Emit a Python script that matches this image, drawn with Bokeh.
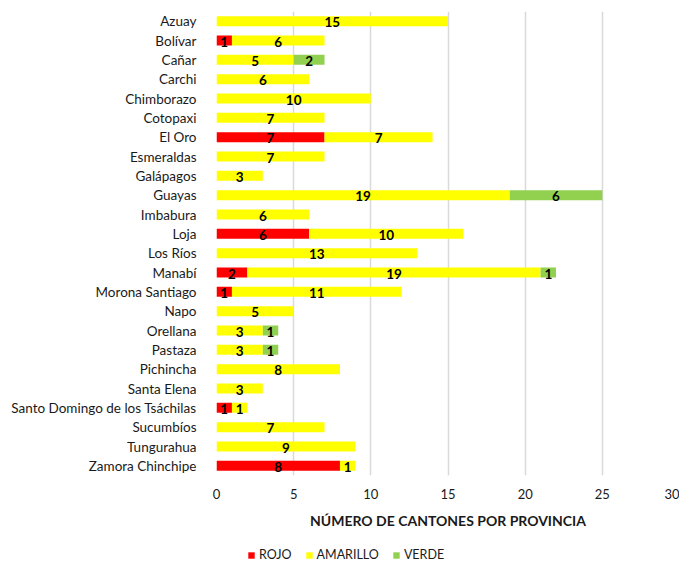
from bokeh.plotting import figure
from bokeh.layouts import column
from bokeh.models import FactorRange, Range1d, SingleIntervalTicker, Legend, LegendItem, ColumnDataSource
from bokeh.core.properties import value
from bokeh.embed import file_html
from bokeh.resources import INLINE

provinces = ["Azuay", "Bolívar", "Cañar", "Carchi", "Chimborazo", "Cotopaxi", "El Oro",
             "Esmeraldas", "Galápagos", "Guayas", "Imbabura", "Loja", "Los Ríos", "Manabí",
             "Morona Santiago", "Napo", "Orellana", "Pastaza", "Pichincha", "Santa Elena",
             "Santo Domingo de los Tsáchilas", "Sucumbíos", "Tungurahua", "Zamora Chinchipe"]
rojo =     [0, 1, 0, 0, 0, 0, 7, 0, 0, 0, 0, 6, 0, 2, 1, 0, 0, 0, 0, 0, 1, 0, 0, 8]
amarillo = [15, 6, 5, 6, 10, 7, 7, 7, 3, 19, 6, 10, 13, 19, 11, 5, 3, 3, 8, 3, 1, 7, 9, 1]
verde =    [0, 0, 2, 0, 0, 0, 0, 0, 0, 6, 0, 0, 0, 1, 0, 0, 1, 1, 0, 0, 0, 0, 0, 0]
series_names = ["ROJO", "AMARILLO", "VERDE"]
colors = ["#FF0000", "#FFFF00", "#92D050"]

FONT = "Lato"

src = ColumnDataSource(dict(prov=provinces, ROJO=rojo, AMARILLO=amarillo, VERDE=verde))

p = figure(width=679, height=541, output_backend="svg", toolbar_location=None,
           y_range=FactorRange(factors=list(reversed(provinces))),
           x_range=Range1d(0, 30),
           min_border_left=216, min_border_right=0, min_border_top=11, min_border_bottom=66)

rs = p.hbar_stack(series_names, y="prov", height=0.52, color=colors, source=src, line_width=0)

# data labels centered in each segment
lx, ly, lt = [], [], []
for i, prov in enumerate(provinces):
    base = 0
    for vals in (rojo, amarillo, verde):
        v = vals[i]
        if v > 0:
            lx.append(base + v / 2)
            ly.append(prov)
            lt.append(str(v))
        base += v
p.text(x=lx, y=ly, text=lt, text_align="center", text_baseline="middle",
       text_font=value(FONT), text_font_size="13.5px", text_font_style="bold",
       text_color="#000000", y_offset=1)

p.xaxis.ticker = SingleIntervalTicker(interval=5)
p.xaxis.axis_line_color = None
p.xaxis.major_tick_line_color = None
p.xaxis.minor_tick_line_color = None
p.xaxis.major_label_text_font = FONT
p.xaxis.major_label_text_font_size = "13px"
p.xaxis.major_label_text_color = "#1a1a1a"
p.xaxis.major_label_standoff = 7
p.xaxis.axis_label = "NÚMERO DE CANTONES POR PROVINCIA"
p.xaxis.axis_label_text_font = FONT
p.xaxis.axis_label_text_font_size = "14px"
p.xaxis.axis_label_text_font_style = "bold"
p.xaxis.axis_label_text_color = "#1a1a1a"
p.xaxis.axis_label_standoff = 10

p.yaxis.axis_line_color = None
p.yaxis.major_tick_line_color = None
p.yaxis.minor_tick_line_color = None
p.yaxis.major_label_text_font = FONT
p.yaxis.major_label_text_font_size = "13.5px"
p.yaxis.major_label_text_color = "#1a1a1a"
p.yaxis.major_label_standoff = 14

p.xgrid.grid_line_color = "#D9D9D9"
p.xgrid.grid_line_width = 1.5
p.ygrid.grid_line_color = None
p.outline_line_color = None

# legend strip below the chart; its bars are kept out of view, only the legend shows
lg = figure(width=679, height=24, output_backend="svg", toolbar_location=None,
            x_range=Range1d(-2, -1), y_range=FactorRange(factors=list(reversed(provinces))),
            x_axis_location=None, y_axis_location=None,
            min_border_left=0, min_border_right=0, min_border_top=0, min_border_bottom=0)
lg.grid.visible = False
lg.outline_line_color = None
lrs = lg.hbar_stack(series_names, y="prov", height=0.5, color=colors, source=src, line_width=0)
legend = Legend(items=[LegendItem(label=n, renderers=[r]) for n, r in zip(series_names, lrs)],
                orientation="horizontal", location=(31, 3),
                label_text_font=FONT, label_text_font_size="12.5px", label_text_color="#1a1a1a",
                label_height=12, glyph_width=8, glyph_height=8, spacing=13, label_standoff=4,
                border_line_color=None, background_fill_alpha=0, margin=0, padding=3)
lg.add_layout(legend, "center")

layout = column(p, lg, spacing=0)
open("out.html", "w").write(file_html(layout, INLINE))
